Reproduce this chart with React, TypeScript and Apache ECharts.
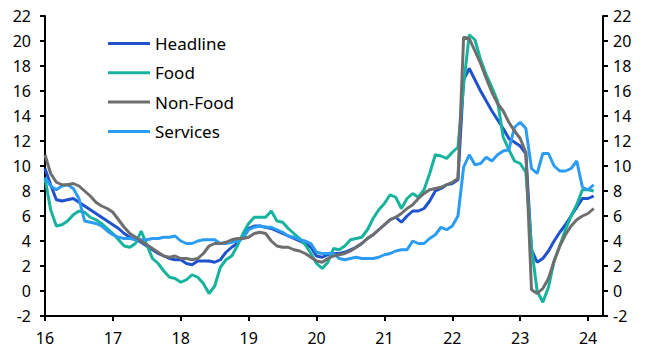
import React, { useEffect, useRef } from "react";
import * as echarts from "echarts";

const startYear = 2016;
const seriesNames = ["Headline", "Food", "Non-Food", "Services"];
const yTicks = { min: -2, max: 22, interval: 2 };

const headline = [
  9.8, 8.5, 7.3, 7.2, 7.3, 7.4, 7.1, 6.8, 6.5, 6.2, 5.9, 5.6,
  5.3, 5.0, 4.6, 4.3, 4.1, 3.9, 3.6, 3.3, 3.0, 2.8, 2.6, 2.5,
  2.5, 2.2, 2.1, 2.4, 2.4, 2.4, 2.3, 2.5, 3.1, 3.5, 3.8, 4.4,
  5.0, 5.2, 5.2, 5.1, 5.0, 4.8, 4.6, 4.4, 4.2, 4.0, 3.8, 3.5,
  2.8, 2.7, 2.9, 3.0, 3.0, 3.1, 3.3, 3.5, 3.8, 4.2, 4.5, 4.9,
  5.3, 5.7, 5.9, 5.5, 6.0, 6.4, 6.4, 6.6, 7.2, 8.0, 8.2, 8.5,
  8.6, 8.9, 16.9, 17.8, 16.9, 16.0, 15.2, 14.4, 13.7, 13.0, 12.2, 11.9,
  11.6, 11.0, 3.3, 2.3, 2.6, 3.2, 4.0, 4.7, 5.3, 6.0, 6.7, 7.4,
  7.4, 7.6,
];

const food = [
  9.0, 6.5, 5.2, 5.3, 5.6, 6.1, 6.4, 6.3, 5.9, 5.7, 5.4, 5.0,
  4.6, 4.1, 3.6, 3.5, 3.8, 4.8, 3.7, 2.6, 2.2, 1.6, 1.1, 1.0,
  0.7, 0.9, 1.3, 1.1, 0.6, -0.2, 0.4, 1.9, 2.5, 2.8, 3.6, 4.6,
  5.4, 5.9, 5.9, 5.9, 6.4, 5.6, 5.5, 5.0, 4.6, 4.2, 3.7, 3.0,
  2.2, 1.8, 2.3, 3.4, 3.3, 3.6, 4.1, 4.2, 4.3, 4.9, 5.8, 6.5,
  7.0, 7.7, 7.5, 6.6, 7.4, 7.8, 7.5, 8.1, 9.4, 10.9, 10.8, 10.6,
  11.1, 11.5, 16.5, 20.5, 20.1, 18.5, 17.3, 16.3, 15.2, 12.3, 11.3, 10.4,
  10.2, 9.5, 3.5, 0.0, -0.9, 0.3, 2.4, 3.6, 4.9, 6.0, 6.9, 8.1,
  8.1, 8.0,
];

const nonFood = [
  10.9, 9.4, 8.7, 8.5, 8.5, 8.6, 8.4, 8.0, 7.6, 7.1, 6.8, 6.6,
  6.3, 5.7, 5.1, 4.6, 4.3, 4.0, 3.7, 3.4, 3.1, 2.8, 2.7, 2.8,
  2.6, 2.6, 2.5, 2.6, 3.0, 3.6, 3.8, 3.8, 3.9, 4.1, 4.2, 4.2,
  4.3, 4.6, 4.7, 4.6, 4.0, 3.6, 3.5, 3.5, 3.3, 3.2, 3.0, 2.7,
  2.4, 2.3, 2.6, 2.8, 2.9, 3.0, 3.2, 3.5, 3.8, 4.2, 4.5, 4.9,
  5.3, 5.7, 5.9, 6.2, 6.6, 6.9, 7.4, 7.8, 8.1, 8.2, 8.3, 8.5,
  8.7, 9.0, 20.3, 20.2, 19.2, 18.2, 17.0, 15.9, 15.0, 14.4, 13.5, 12.8,
  12.2, 11.1, 0.1, -0.2, 0.2, 1.0, 2.4, 3.6, 4.5, 5.2, 5.7, 6.0,
  6.2, 6.6,
];

const services = [
  9.1, 8.4, 8.1, 8.4, 8.5, 8.2, 7.4, 5.6, 5.5, 5.4, 5.2, 4.8,
  4.5, 4.3, 4.2, 4.2, 4.1, 4.1, 4.1, 4.2, 4.2, 4.3, 4.3, 4.4,
  4.0, 3.8, 3.8, 4.0, 4.1, 4.1, 4.1, 3.8, 3.8, 3.9, 4.0, 4.2,
  4.9, 5.1, 5.2, 5.1, 5.1, 4.9, 4.7, 4.4, 4.3, 4.1, 4.0, 3.8,
  3.1, 3.0, 3.0, 3.0, 2.6, 2.5, 2.6, 2.7, 2.6, 2.6, 2.6, 2.7,
  2.9, 3.0, 3.2, 3.3, 3.3, 4.0, 3.8, 3.8, 4.2, 4.5, 5.1, 4.9,
  5.2, 6.0, 9.9, 10.9, 10.1, 10.2, 10.7, 10.4, 10.9, 11.2, 11.3, 13.1,
  13.5, 13.0, 9.8, 9.4, 11.0, 11.0, 10.0, 9.6, 9.6, 9.8, 10.4, 8.3,
  8.1, 8.5,
];

const colors = ["#1f52cc", "#16b39e", "#6e6e6e", "#2b9cf2"];
const FONT = "'Noto Sans', 'Open Sans', sans-serif";

function toPoints(values: number[]) {
  return values.map((v, i) => [startYear + i / 12, v]);
}

export default function App() {
  const ref = useRef<HTMLDivElement>(null);
  useEffect(() => {
    if (!ref.current) return;
    const chart = echarts.init(ref.current, undefined, { renderer: "svg" });
    const allSeries = [headline, food, nonFood, services];
    const yAxisCommon = {
      type: "value" as const,
      min: yTicks.min,
      max: yTicks.max,
      interval: yTicks.interval,
      splitLine: { show: false },
      axisLine: { show: true, lineStyle: { color: "#000", width: 2 } },
      axisTick: { show: true, inside: false, length: 5, lineStyle: { color: "#000", width: 2 } },
    };
    chart.setOption({
      animation: false,
      backgroundColor: "#fff",
      grid: { left: 45, right: 47, top: 16, bottom: 39, containLabel: false },
      legend: {
        orient: "vertical",
        left: 108,
        top: 35,
        padding: 0,
        icon: "rect",
        itemWidth: 42,
        itemHeight: 3,
        itemGap: 12.3,
        data: seriesNames,
        textStyle: { fontSize: 17, fontFamily: FONT, color: "#000" },
      },
      xAxis: {
        type: "value",
        min: 2016,
        max: 2024.22,
        interval: 1,
        splitLine: { show: false },
        axisLine: { show: true, onZero: false, lineStyle: { color: "#000", width: 2 } },
        axisTick: { show: true, inside: false, length: 5, lineStyle: { color: "#000", width: 2 } },
        axisLabel: {
          fontSize: 16,
          fontFamily: FONT,
          color: "#000",
          margin: 14,
          showMaxLabel: false,
          formatter: (v: number) => (Number.isInteger(v) ? String(v % 100) : ""),
        },
      },
      yAxis: [
        {
          ...yAxisCommon,
          position: "left",
          axisLabel: { fontSize: 16, fontFamily: FONT, color: "#000", margin: 14 },
        },
        {
          ...yAxisCommon,
          position: "right",
          axisLabel: { fontSize: 16, fontFamily: FONT, color: "#000", margin: 10 },
        },
      ],
      series: allSeries.map((vals, k) => ({
        name: seriesNames[k],
        type: "line",
        data: toPoints(vals),
        symbol: "none",
        showSymbol: false,
        color: colors[k],
        lineStyle: { width: 3, color: colors[k] },
        z: k === 2 ? 4 : 2 + (k === 3 ? 1 : 0),
      })),
    });
    return () => chart.dispose();
  }, []);
  return (
    <div
      ref={ref}
      style={{ position: "absolute", left: 0, top: 0, width: 650, height: 355 }}
    />
  );
}
